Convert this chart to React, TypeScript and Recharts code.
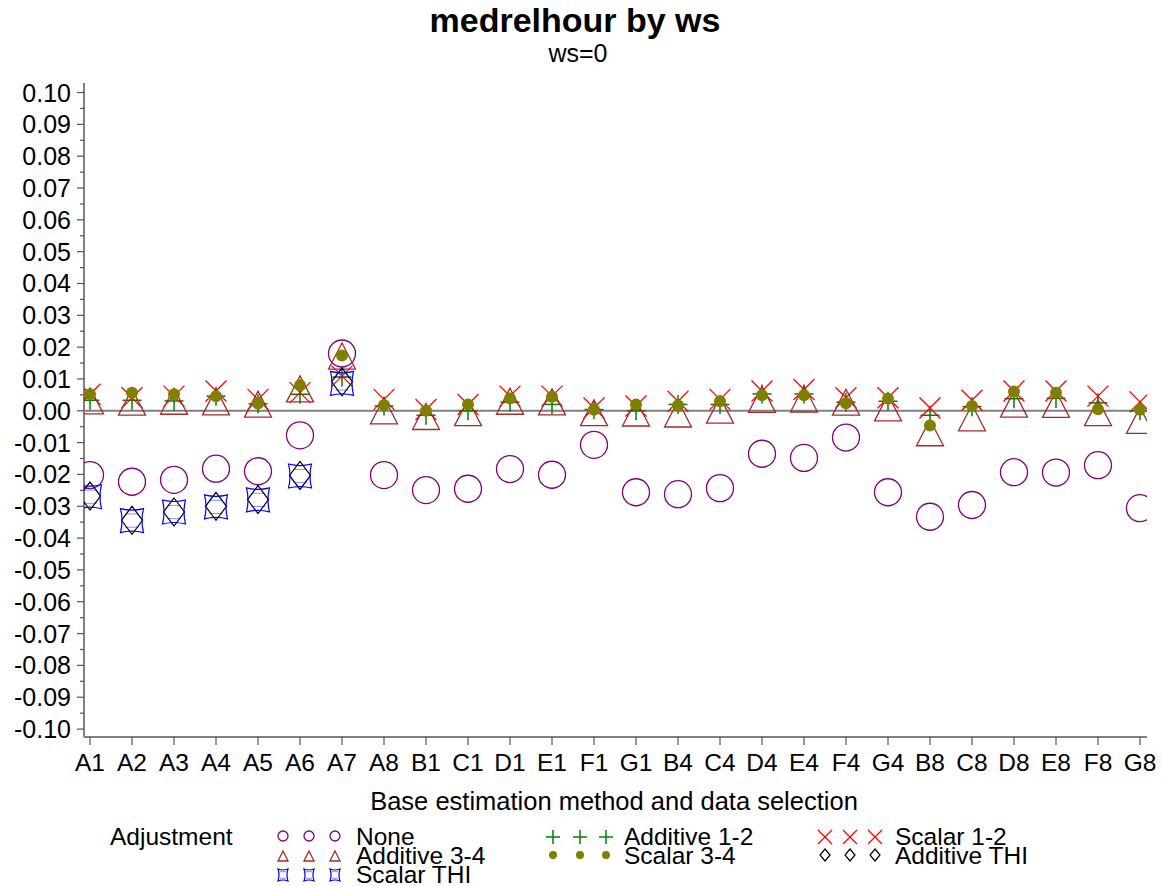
import React from 'react';
import { ScatterChart, Scatter, XAxis, YAxis, ReferenceLine } from 'recharts';

// ---------- data ----------
const categories = ['A1','A2','A3','A4','A5','A6','A7','A8','B1','C1','D1','E1','F1','G1','B4','C4','D4','E4','F4','G4','B8','C8','D8','E8','F8','G8'];

const noneVals = [-0.0202,-0.0223,-0.0217,-0.0182,-0.019,-0.0077,0.018,-0.0202,-0.0249,-0.0245,-0.0183,-0.0201,-0.0107,-0.0256,-0.0262,-0.0243,-0.0135,-0.0148,-0.0084,-0.0256,-0.0333,-0.0296,-0.0193,-0.0194,-0.0171,-0.0306];
const additive12 = [0.0033,0.0033,0.0031,0.0046,0.0022,0.0052,0.0106,0.0015,-0.0014,0.0,0.0027,0.002,0.0004,0.0,0.002,0.002,0.0053,0.0053,0.0027,0.003,-0.0014,0.0013,0.0038,0.0039,0.0025,0.0];
const scalar12 = [0.0052,0.0041,0.0046,0.0062,0.0036,0.0057,0.0109,0.0036,0.0004,0.002,0.0046,0.0046,0.0009,0.0015,0.003,0.0036,0.0062,0.0067,0.0041,0.0041,0.0009,0.0033,0.0062,0.0062,0.0046,0.0028];
const additive34 = [0.0031,0.0027,0.003,0.0028,0.0021,0.0069,0.0172,0.0,-0.0018,-0.0006,0.003,0.0028,-0.0006,-0.0007,-0.001,0.0002,0.0036,0.0037,0.0027,0.0009,-0.0069,-0.0022,0.0021,0.002,-0.0006,-0.003];
const scalar34 = [0.0052,0.0057,0.0052,0.0046,0.0023,0.008,0.0174,0.0018,0.0,0.002,0.0039,0.0044,0.0003,0.002,0.0017,0.003,0.0049,0.0049,0.0024,0.0038,-0.0046,0.0015,0.0061,0.0057,0.0005,0.0003];
const additiveTHI = [-0.0268,-0.0344,-0.0318,-0.030,-0.0279,-0.0203,0.0091];
const scalarTHI = [-0.027,-0.0345,-0.0318,-0.0302,-0.028,-0.0205,0.0086];

const yTicks = [-0.10,-0.095,-0.09,-0.085,-0.08,-0.075,-0.07,-0.065,-0.06,-0.055,-0.05,-0.045,-0.04,-0.035,-0.03,-0.025,-0.02,-0.015,-0.01,-0.005,0,0.005,0.01,0.015,0.02,0.025,0.03,0.035,0.04,0.045,0.05,0.055,0.06,0.065,0.07,0.075,0.08,0.085,0.09,0.095,0.10];

const toPts = (arr: number[]) => arr.map((v, i) => ({ x: i, y: v }));

// ---------- styling ----------
const FONT = '"Liberation Sans", Arial, Helvetica, sans-serif';
const COL = {
  none: '#800080',
  add12: '#008000',
  sc12: '#FF0000',
  add34: '#A52A2A',
  sc34: '#808000',
  addTHI: '#000000',
  scTHI: '#0000FF',
};

// ---------- marker drawers ----------
const drawCircle = (cx: number, cy: number, r: number) => (
  <circle cx={cx} cy={cy} r={r} fill="none" stroke={COL.none} strokeWidth={1.3} />
);
const drawPlus = (cx: number, cy: number, h: number) => (
  <g stroke={COL.add12} strokeWidth={1.5}>
    <line x1={cx - h} y1={cy} x2={cx + h} y2={cy} />
    <line x1={cx} y1={cy - h} x2={cx} y2={cy + h} />
  </g>
);
const drawX = (cx: number, cy: number, h: number) => (
  <g stroke={COL.sc12} strokeWidth={1.3}>
    <line x1={cx - h} y1={cy - h} x2={cx + h} y2={cy + h} />
    <line x1={cx - h} y1={cy + h} x2={cx + h} y2={cy - h} />
  </g>
);
const drawTri = (cx: number, cy: number, w: number, h: number) => (
  <polygon
    points={`${cx},${cy - h} ${cx + w},${cy + h} ${cx - w},${cy + h}`}
    fill="none"
    stroke={COL.add34}
    strokeWidth={1.3}
  />
);
const drawDot = (cx: number, cy: number, r: number) => (
  <circle cx={cx} cy={cy} r={r} fill={COL.sc34} stroke="none" />
);
const drawDiamond = (cx: number, cy: number, w: number, h: number) => (
  <polygon
    points={`${cx},${cy - h} ${cx + w},${cy} ${cx},${cy + h} ${cx - w},${cy}`}
    fill="none"
    stroke={COL.addTHI}
    strokeWidth={1.2}
  />
);
const drawStar = (cx: number, cy: number, a: number, b: number, c: number) => (
  <g>
    <path
      d={`M${cx - a},${cy - b} Q${cx},${cy - b + c} ${cx + a},${cy - b} Q${cx + a - c},${cy} ${cx + a},${cy + b} Q${cx},${cy + b - c} ${cx - a},${cy + b} Q${cx - a + c},${cy} ${cx - a},${cy - b} Z`}
      fill="none"
      stroke={COL.scTHI}
      strokeWidth={1.2}
    />
    <line x1={cx - a * 0.6} y1={cy - b * 0.55} x2={cx + a * 0.6} y2={cy - b * 0.55} stroke={COL.scTHI} strokeOpacity={0.45} strokeWidth={1} />
    <line x1={cx - a * 0.6} y1={cy + b * 0.55} x2={cx + a * 0.6} y2={cy + b * 0.55} stroke={COL.scTHI} strokeOpacity={0.45} strokeWidth={1} />
  </g>
);

// ---------- axis ticks ----------
const Y_TICK_SIZE = 7;
const Y_TICK_MARGIN = 6;

const YTick = (props: any) => {
  const { x, y, payload } = props;
  const v = payload.value as number;
  const major = Math.abs(Math.round(v * 100) - v * 100) < 1e-6;
  const ax = x + Y_TICK_SIZE + Y_TICK_MARGIN;
  return (
    <g>
      <line x1={ax - (major ? 7 : 4)} y1={y} x2={ax} y2={y} stroke="#555" strokeWidth={1.2} />
      {major && (
        <text x={ax - 13} y={y} dy="0.36em" textAnchor="end" fontFamily={FONT} fontSize={25} fill="#000">
          {v.toFixed(2)}
        </text>
      )}
    </g>
  );
};

const XTick = (props: any) => {
  const { x, y, payload } = props;
  return (
    <text x={x} y={y} dy="0.71em" textAnchor="middle" fontFamily={FONT} fontSize={24.5} fill="#000">
      {categories[payload.value]}
    </text>
  );
};

// ---------- legend ----------
const legendRows = [836, 856, 875];
const legendText = [845, 864, 883];
const col1 = [283, 309, 335];
const col2 = [553, 580, 606];
const col3 = [825, 850, 875];
const LF = 24.5;

const LegendOverlay = () => (
  <svg
    width={1162}
    height={886}
    style={{ position: 'absolute', left: 0, top: 0, pointerEvents: 'none' }}
  >
    <text x={575} y={32} textAnchor="middle" fontFamily={FONT} fontWeight="bold" fontSize={34} fill="#000">
      medrelhour by ws
    </text>
    <text x={578} y={62} textAnchor="middle" fontFamily={FONT} fontSize={25} fill="#000">
      ws=0
    </text>
    <text x={614} y={810} textAnchor="middle" fontFamily={FONT} fontSize={25.5} fill="#000">
      Base estimation method and data selection
    </text>
    <text x={110} y={845} fontFamily={FONT} fontSize={LF} fill="#000">Adjustment</text>

    {col1.map((cx) => <g key={'n' + cx}>{drawCircle(cx, legendRows[0], 5)}</g>)}
    {col1.map((cx) => <g key={'t' + cx}>{drawTri(cx, legendRows[1], 5, 5)}</g>)}
    {col1.map((cx) => <g key={'s' + cx}>{drawStar(cx, legendRows[2], 5, 6, 2)}</g>)}
    <text x={356} y={legendText[0]} fontFamily={FONT} fontSize={LF}>None</text>
    <text x={356} y={legendText[1]} fontFamily={FONT} fontSize={LF}>Additive 3-4</text>
    <text x={356} y={legendText[2]} fontFamily={FONT} fontSize={LF}>Scalar THI</text>

    {col2.map((cx) => <g key={'p' + cx}>{drawPlus(cx, legendRows[0] + 1, 7)}</g>)}
    {col2.map((cx) => <g key={'d' + cx}>{drawDot(cx, legendRows[1] - 1, 4)}</g>)}
    <text x={624} y={legendText[0]} fontFamily={FONT} fontSize={LF}>Additive 1-2</text>
    <text x={624} y={legendText[1]} fontFamily={FONT} fontSize={LF}>Scalar 3-4</text>

    {col3.map((cx) => <g key={'x' + cx}>{drawX(cx, legendRows[0] + 1, 7)}</g>)}
    {col3.map((cx) => <g key={'m' + cx}>{drawDiamond(cx, legendRows[1] - 1, 5, 6)}</g>)}
    <text x={895} y={legendText[0]} fontFamily={FONT} fontSize={LF}>Scalar 1-2</text>
    <text x={895} y={legendText[1]} fontFamily={FONT} fontSize={LF}>Additive THI</text>
  </svg>
);

// ---------- chart ----------
const X_DOMAIN: [number, number] = [-0.143, 25.167];
const Y_DOMAIN: [number, number] = [-0.1025, 0.103];

export default function App() {
  return (
    <div style={{ position: 'absolute', left: 0, top: 0, width: 1162, height: 886, background: '#fff' }}>
      <ScatterChart width={1162} height={886} margin={{ top: 83, right: 15, bottom: 0, left: 0 }}>
        <XAxis
          xAxisId={0}
          dataKey="x"
          type="number"
          domain={X_DOMAIN}
          allowDataOverflow
          ticks={categories.map((_, i) => i)}
          interval={0}
          tick={<XTick />}
          tickSize={8}
          tickMargin={9}
          tickLine={{ stroke: '#555', strokeWidth: 1.2 }}
          axisLine={{ stroke: '#808080', strokeWidth: 2 }}
          height={149}
        />
        <XAxis
          xAxisId="top"
          orientation="top"
          dataKey="x"
          type="number"
          domain={X_DOMAIN}
          allowDataOverflow
          tick={false}
          tickLine={false}
          axisLine={{ stroke: '#333', strokeWidth: 1.5 }}
          height={0}
        />
        <YAxis
          yAxisId={0}
          dataKey="y"
          type="number"
          domain={Y_DOMAIN}
          allowDataOverflow
          ticks={yTicks}
          interval={0}
          tick={<YTick />}
          tickLine={false}
          tickSize={Y_TICK_SIZE}
          tickMargin={Y_TICK_MARGIN}
          axisLine={{ stroke: '#808080', strokeWidth: 2 }}
          width={84}
        />
        <YAxis
          yAxisId="right"
          orientation="right"
          dataKey="y"
          type="number"
          domain={Y_DOMAIN}
          allowDataOverflow
          tick={false}
          tickLine={false}
          axisLine={{ stroke: '#808080', strokeWidth: 2 }}
          width={0}
        />
        <ReferenceLine xAxisId={0} yAxisId={0} y={0} stroke="#808080" strokeWidth={2} />

        <Scatter xAxisId={0} yAxisId={0} name="None" data={toPts(noneVals)} isAnimationActive={false}
          shape={(p: any) => drawCircle(p.cx, p.cy, 13.5)} />
        <Scatter xAxisId={0} yAxisId={0} name="Additive 1-2" data={toPts(additive12)} isAnimationActive={false}
          shape={(p: any) => drawPlus(p.cx, p.cy, 9.5)} />
        <Scatter xAxisId={0} yAxisId={0} name="Scalar 1-2" data={toPts(scalar12)} isAnimationActive={false}
          shape={(p: any) => drawX(p.cx, p.cy, 10.5)} />
        <Scatter xAxisId={0} yAxisId={0} name="Additive 3-4" data={toPts(additive34)} isAnimationActive={false}
          shape={(p: any) => drawTri(p.cx, p.cy, 13.5, 13)} />
        <Scatter xAxisId={0} yAxisId={0} name="Scalar 3-4" data={toPts(scalar34)} isAnimationActive={false}
          shape={(p: any) => drawDot(p.cx, p.cy, 6)} />
        <Scatter xAxisId={0} yAxisId={0} name="Additive THI" data={toPts(additiveTHI)} isAnimationActive={false}
          shape={(p: any) => drawDiamond(p.cx, p.cy, 10.5, 14)} />
        <Scatter xAxisId={0} yAxisId={0} name="Scalar THI" data={toPts(scalarTHI)} isAnimationActive={false}
          shape={(p: any) => drawStar(p.cx, p.cy, 11.5, 12, 3)} />
      </ScatterChart>
      <LegendOverlay />
    </div>
  );
}
